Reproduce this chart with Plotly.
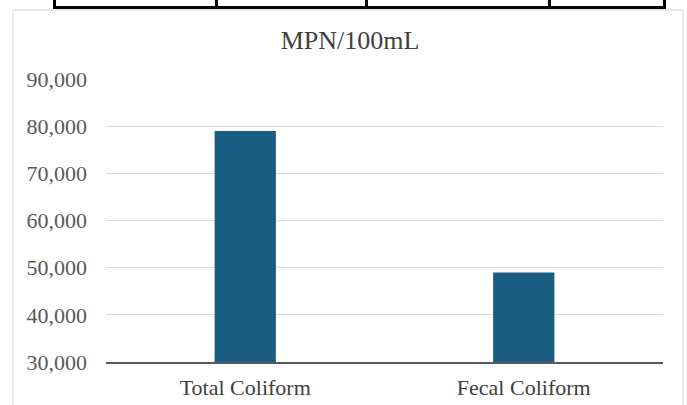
import plotly.graph_objects as go

categories = ["Total Coliform", "Fecal Coliform"]
values = [79000, 49000]
y_ticks = [30000, 40000, 50000, 60000, 70000, 80000, 90000]
y_tick_labels = ["30,000", "40,000", "50,000", "60,000", "70,000", "80,000", "90,000"]
title_text = "MPN/100mL"

W, H = 687, 405
ML, MR, MT, MB = 106, 24, 79, 43
PW, PH = W - ML - MR, H - MT - MB


def px(x):
    return (x - ML) / PW


def py(y):
    return (H - MB - y) / PH


fig = go.Figure(
    go.Bar(x=categories, y=values, marker=dict(color="#1a5d80", line=dict(width=0)))
)

shapes = []
# chart frame (light gray)
shapes.append(dict(type="rect", xref="paper", yref="paper",
                   x0=px(13), x1=px(683), y0=py(410), y1=py(10),
                   line=dict(color="#d4d4d4", width=1), fillcolor="rgba(0,0,0,0)", layer="below"))
# table fragment at the top
shapes.append(dict(type="line", xref="paper", yref="paper",
                   x0=px(53), x1=px(666), y0=py(7.5), y1=py(7.5),
                   line=dict(color="black", width=3)))
for vx in [54.5, 216.5, 366.5, 549.5, 664.5]:
    shapes.append(dict(type="line", xref="paper", yref="paper",
                       x0=px(vx), x1=px(vx), y0=py(-2), y1=py(8),
                       line=dict(color="black", width=3)))

fig.update_layout(
    width=W, height=H,
    margin=dict(l=ML, r=MR, t=MT, b=MB, autoexpand=False),
    paper_bgcolor="white", plot_bgcolor="white",
    showlegend=False,
    bargap=0.78,
    font=dict(family="Liberation Serif", color="#595959", size=16),
    title=dict(text=title_text, xref="container", yref="container",
               x=350 / W, xanchor="center", y=(H - 40) / H, yanchor="middle",
               font=dict(family="Liberation Serif", size=26, color="#404040")),
    shapes=shapes,
)
fig.update_yaxes(range=[30000, 90000], tickvals=y_ticks, ticktext=y_tick_labels,
                 showgrid=True, gridcolor="#dcdcdc", gridwidth=1, automargin=False,
                 zeroline=False, showline=False, ticks="", ticklabelstandoff=18,
                 tickfont=dict(family="Liberation Serif", size=22, color="#595959"))
fig.update_xaxes(showline=True, linecolor="#595959", linewidth=1.5, ticks="",
                 ticklabelstandoff=5, automargin=False,
                 tickfont=dict(family="Liberation Serif", size=22, color="#404040"))

fig.write_html("out.html", config={"displayModeBar": False},
               post_script="document.body.style.margin='0';")
